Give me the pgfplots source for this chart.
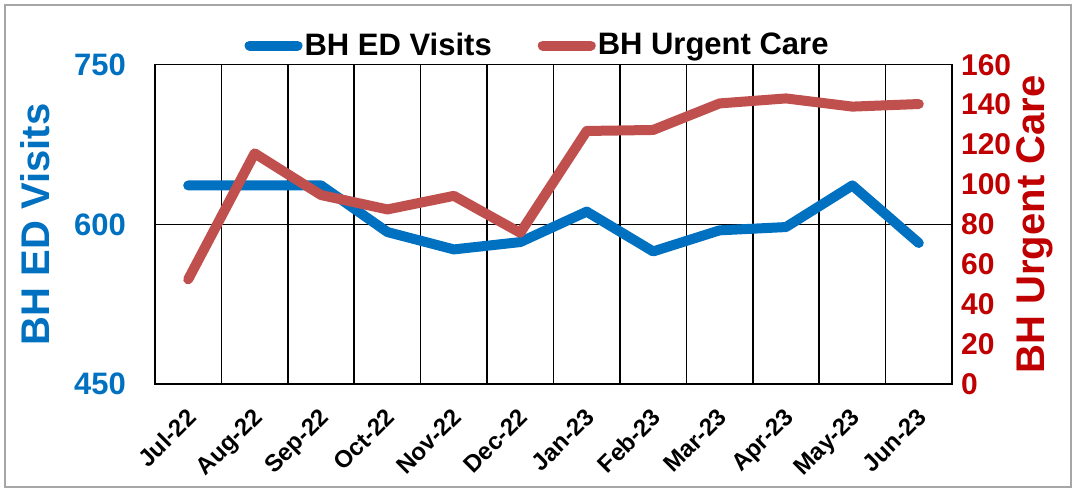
\documentclass[border=0pt]{standalone}
\usepackage{fontspec}
\setmainfont{Liberation Sans}
\usepackage{pgfplots}
\pgfplotsset{compat=1.18}
\definecolor{edblue}{HTML}{0070C0}
\definecolor{ucred}{HTML}{C0504D}
\definecolor{axred}{HTML}{C00000}

\begin{document}
\begin{tikzpicture}
% left axis: ED visits
\begin{axis}[
  name=ax1,
  scale only axis, width=398.5pt, height=159.7pt,
  xmin=-0.5, xmax=11.5, ymin=450, ymax=750,
  xtick={0,...,11},
  xticklabels={Jul-22,Aug-22,Sep-22,Oct-22,Nov-22,Dec-22,Jan-23,Feb-23,Mar-23,Apr-23,May-23,Jun-23},
  minor xtick={0.5,1.5,...,10.5},
  xminorgrids, ymajorgrids,
  ytick={450,600,750},
  grid style={black, line width=0.8pt},
  minor grid style={black, line width=0.8pt},
  axis line style={black, line width=0.8pt},
  major tick length=0pt, minor tick length=0pt,
  /pgf/number format/assume math mode=true,
  yticklabel style={font=\fontsize{15.5}{15.5}\selectfont\bfseries, text=edblue, xshift=-11pt},
  xticklabel style={font=\fontsize{12}{12}\selectfont\bfseries, xshift=-1.5pt, yshift=-6.5pt, rotate=45, anchor=north east},
  ylabel={BH ED Visits},
  ylabel style={font=\fontsize{20}{20}\selectfont\bfseries, text=edblue,
    at={(axis description cs:-0.1506,0.5)}, anchor=center},
]
\addplot[edblue, line width=5pt, line cap=round, line join=round] coordinates {
  (0,636.6) (1,636.6) (2,636.6) (3,592.8) (4,576.5) (5,583.4)
  (6,612) (7,574.6) (8,594.4) (9,597.5) (10,636.6) (11,582.5)};
\end{axis}
% right axis: urgent care
\begin{axis}[
  scale only axis, width=398.5pt, height=159.7pt,
  xmin=-0.5, xmax=11.5, ymin=0, ymax=160,
  axis y line*=right, hide x axis,
  ytick={0,20,...,160},
  axis line style={black, line width=0.8pt},
  major tick length=0pt,
  /pgf/number format/assume math mode=true,
  yticklabel style={font=\fontsize{15}{15}\selectfont\bfseries, text=axred, xshift=1pt},
  ylabel={BH Urgent Care},
  ylabel style={font=\fontsize{20}{20}\selectfont\bfseries, text=axred,
    at={(axis description cs:1.104,0.5)}, anchor=center},
  legend style={at={(0.48,1)}, anchor=south, yshift=0pt, draw=none, fill=none,
    legend columns=2, font=\fontsize{15.5}{15.5}\selectfont\bfseries,
    /tikz/every even column/.append style={column sep=22pt},
    nodes={inner sep=1pt}},
  legend image code/.code={\draw[#1, line width=5pt, line cap=round] (0pt,0pt) -- (24pt,0pt);},
]
\addlegendimage{edblue}
\addplot[ucred, line width=5pt, line cap=round, line join=round] coordinates {
  (0,52.5) (1,115.6) (2,94.7) (3,87.5) (4,94.3) (5,75.8)
  (6,126.8) (7,127.3) (8,140.6) (9,143.1) (10,139) (11,140.3)};
\legend{BH ED Visits, BH Urgent Care}
\end{axis}
% chart frame
\path[use as bounding box] ([xshift=-77.5pt,yshift=-53.5pt]ax1.south west) rectangle ([xshift=61pt,yshift=32.35pt]ax1.north east);
\draw[gray!70, line width=0.6pt] ([xshift=-75pt,yshift=-51.5pt]ax1.south west) rectangle ([xshift=59.5pt,yshift=29.8pt]ax1.north east);
\end{tikzpicture}
\end{document}
